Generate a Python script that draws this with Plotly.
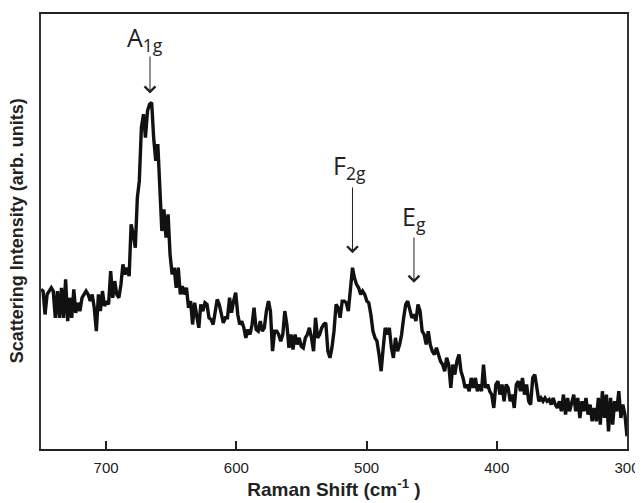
import plotly.graph_objects as go

raman_shift = [
750.0, 748.4, 746.9, 745.3, 743.7, 742.1, 740.6, 739.0, 737.4, 735.8,
734.3, 732.7, 731.1, 729.5, 728.0, 726.4, 724.8, 723.3, 721.7, 720.1,
718.5, 717.0, 715.4, 713.8, 712.2, 710.7, 709.1, 707.5, 705.9, 704.4,
702.8, 701.2, 699.6, 698.1, 696.5, 694.9, 693.4, 691.8, 690.2, 688.6,
687.1, 685.5, 683.9, 682.3, 680.8, 679.2, 677.6, 676.0, 674.5, 672.9,
671.3, 669.8, 668.2, 666.6, 665.0, 663.5, 661.9, 660.3, 658.7, 657.2,
655.6, 654.0, 652.4, 650.9, 649.3, 647.7, 646.2, 644.6, 643.0, 641.4,
639.9, 638.3, 636.7, 635.1, 633.6, 632.0, 630.4, 628.8, 627.3, 625.7,
624.1, 622.5, 621.0, 619.4, 617.8, 616.3, 614.7, 613.1, 611.5, 610.0,
608.4, 606.8, 605.2, 603.7, 602.1, 600.5, 598.9, 597.4, 595.8, 594.2,
592.7, 591.1, 589.5, 587.9, 586.4, 584.8, 583.2, 581.6, 580.1, 578.5,
576.9, 575.3, 573.8, 572.2, 570.6, 569.0, 567.5, 565.9, 564.3, 562.8,
561.2, 559.6, 558.0, 556.5, 554.9, 553.3, 551.7, 550.2, 548.6, 547.0,
545.5, 543.9, 542.3, 540.7, 539.2, 537.6, 536.0, 534.4, 532.9, 531.3,
529.7, 528.1, 526.6, 525.0, 523.4, 521.8, 520.3, 518.7, 517.1, 515.6,
514.0, 512.4, 510.8, 509.3, 507.7, 506.1, 504.5, 503.0, 501.4, 499.8,
498.3, 496.7, 495.1, 493.5, 492.0, 490.4, 488.8, 487.2, 485.7, 484.1,
482.5, 480.9, 479.4, 477.8, 476.2, 474.6, 473.1, 471.5, 469.9, 468.4,
466.8, 465.2, 463.6, 462.1, 460.5, 458.9, 457.3, 455.8, 454.2, 452.6,
451.1, 449.5, 447.9, 446.3, 444.8, 443.2, 441.6, 440.0, 438.5, 436.9,
435.3, 433.8, 432.2, 430.6, 429.0, 427.5, 425.9, 424.3, 422.7, 421.2,
419.6, 418.0, 416.4, 414.9, 413.3, 411.7, 410.2, 408.6, 407.0, 405.4,
403.9, 402.3, 400.7, 399.1, 397.6, 396.0, 394.4, 392.8, 391.3, 389.7,
388.1, 386.6, 385.0, 383.4, 381.8, 380.3, 378.7, 377.1, 375.5, 374.0,
372.4, 370.8, 369.2, 367.7, 366.1, 364.5, 363.0, 361.4, 359.8, 358.2,
356.7, 355.1, 353.5, 351.9, 350.4, 348.8, 347.2, 345.6, 344.1, 342.5,
340.9, 339.4, 337.8, 336.2, 334.6, 333.1, 331.5, 329.9, 328.3, 326.8,
325.2, 323.6, 322.0, 320.5, 318.9, 317.3, 315.8, 314.2, 312.6, 311.0,
309.5, 307.9, 306.3, 304.7, 303.2, 301.6, 300.0,
]

intensity = [
478, 473, 403, 463, 473, 483, 473, 393, 473, 393,
483, 393, 508, 383, 453, 393, 478, 408, 438, 413,
453, 463, 473, 463, 443, 463, 423, 353, 463, 413,
473, 428, 443, 433, 533, 453, 503, 463, 453, 493,
553, 523, 543, 518, 673, 643, 603, 753, 803, 963,
1003, 933, 1013, 1033, 1038, 933, 863, 913, 763, 653,
718, 633, 703, 583, 523, 543, 483, 543, 463, 488,
463, 483, 423, 443, 373, 438, 398, 363, 433, 413,
438, 433, 393, 388, 373, 403, 448, 433, 403, 378,
393, 393, 453, 408, 443, 468, 403, 373, 383, 363,
333, 358, 343, 373, 423, 358, 353, 383, 353, 363,
413, 443, 413, 293, 353, 353, 343, 323, 343, 413,
373, 303, 343, 298, 343, 313, 333, 308, 303, 333,
343, 363, 333, 293, 393, 333, 343, 363, 373, 378,
293, 273, 303, 353, 433, 423, 393, 443, 443, 438,
413, 483, 543, 513, 493, 483, 463, 473, 463, 443,
438, 403, 353, 333, 323, 283, 233, 303, 363, 343,
363, 303, 273, 333, 293, 313, 343, 393, 433, 443,
413, 393, 403, 383, 433, 413, 353, 343, 313, 353,
313, 293, 283, 303, 283, 263, 253, 233, 273, 253,
183, 253, 223, 263, 283, 233, 213, 183, 193, 173,
213, 183, 213, 173, 193, 173, 253, 183, 193, 173,
163, 123, 193, 203, 163, 193, 143, 193, 183, 143,
163, 123, 193, 203, 173, 213, 163, 193, 143, 133,
213, 223, 183, 143, 153, 143, 153, 143, 148, 133,
153, 133, 123, 143, 113, 163, 103, 153, 113, 143,
163, 113, 153, 93, 143, 113, 153, 103, 133, 83,
123, 83, 153, 73, 173, 93, 163, 53, 153, 73,
143, 113, 173, 93, 133, 103, 38,
]

peak_labels = ["A<sub>1g</sub>", "F<sub>2g</sub>", "E<sub>g</sub>"]
peak_pos = [666.3, 510.8, 463.6]
arrow_tip = [1065, 586, 498]
arrow_tail = [1180, 788, 638]
label_x = [669.8, 513.3, 463.6]
label_y = [1230, 846, 692]
tick_vals = [700, 600, 500, 400, 300]

fig = go.Figure()
fig.add_trace(go.Scatter(
    x=raman_shift, y=intensity, mode="lines",
    line=dict(color="#111111", width=3.4), showlegend=False,
))

for lab, px, tip, tail, lx, ly in zip(peak_labels, peak_pos, arrow_tip, arrow_tail, label_x, label_y):
    fig.add_annotation(
        x=px, y=tip, ax=px, ay=tail, axref="x", ayref="y",
        text="", showarrow=True, arrowhead=4, arrowsize=2.1, arrowwidth=1,
        arrowcolor="#222222",
    )
    fig.add_annotation(
        x=lx, y=ly, text=lab, showarrow=False,
        font=dict(family="Open Sans", size=25, color="#222222"),
    )

# y-axis title placed as a rotated annotation to sit close to the page edge
fig.add_annotation(
    xref="paper", yref="paper", x=-0.041, y=0.503,
    xanchor="center", yanchor="middle", textangle=-90, showarrow=False,
    text="<b>Scattering Intensity (arb. units)</b>",
    font=dict(family="Liberation Sans, Arial", size=18, color="#222222"),
)

# the page body adds an 8 px offset, so the figure is sized to fit the 643x503 window
fig.update_layout(
    width=635, height=495,
    margin=dict(l=33, r=16, t=6, b=54),
    paper_bgcolor="white", plot_bgcolor="white",
    font=dict(family="Liberation Sans, Arial", color="#222222"),
    xaxis=dict(
        range=[750, 300], tickvals=tick_vals, ticks="inside", ticklen=8,
        tickwidth=1.5, tickcolor="#222222", automargin=False,
        ticklabelstandoff=4,
        showline=True, linecolor="#222222", linewidth=2.2, mirror=True,
        showgrid=False, zeroline=False,
        tickfont=dict(size=15, family="Liberation Sans, Arial", color="#222222"),
        title=dict(text="<b>Raman Shift (cm<sup>-1</sup> )</b>",
                   font=dict(size=19, color="#222222"), standoff=8),
    ),
    yaxis=dict(
        range=[0, 1303], showticklabels=False, ticks="", automargin=False,
        showline=True, linecolor="#333333", linewidth=1.8, mirror=True,
        showgrid=False, zeroline=False,
    ),
)
fig.update_xaxes(tickprefix="<b>", ticksuffix="</b>")

fig.write_html("out.html")
